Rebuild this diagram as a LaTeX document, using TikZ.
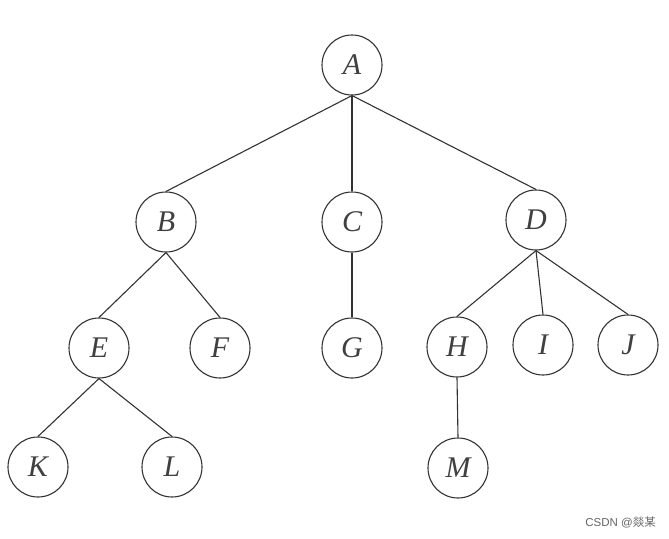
\documentclass[tikz,border=0pt]{standalone}
\usepackage{fontspec}
\setmainfont{Liberation Serif}
\newfontfamily\cjk{Noto Sans CJK SC}
\newfontfamily\wmfont{Liberation Sans}
\begin{document}
\begin{tikzpicture}[x=1pt,y=-1pt,
  tn/.style={circle,draw=black!80,line width=1.1pt,minimum size=60pt,inner sep=0pt,
    font=\fontsize{30}{32}\selectfont\itshape,text=black!75},
  ed/.style={draw=black!80,line width=1.1pt}]
\useasboundingbox[fill=white] (0,0) rectangle (669,538);
\node[tn] (A) at (352,65) {A};
\node[tn] (B) at (166,222) {B};
\node[tn] (C) at (352,222) {C};
\node[tn] (D) at (536,220) {D};
\node[tn] (E) at (99,348) {E};
\node[tn] (F) at (220,348) {F};
\node[tn] (G) at (352,348) {G};
\node[tn] (H) at (457,347) {H};
\node[tn] (I) at (543,345) {I};
\node[tn] (J) at (628,345) {J};
\node[tn] (K) at (38,467) {K};
\node[tn] (L) at (172,467) {L};
\node[tn] (M) at (458,468) {M};
\foreach \p/\c in {A/B,A/C,A/D,B/E,B/F,C/G,D/H,D/I,D/J,E/K,E/L,H/M}
  \draw[ed] (\p.south) -- (\c.north);
\node[anchor=east,font=\fontsize{11.5}{12}\selectfont\wmfont,text=black!60,inner sep=0pt] (wm) at (656,522) {CSDN @{\cjk 燚某}};
\end{tikzpicture}
\end{document}
